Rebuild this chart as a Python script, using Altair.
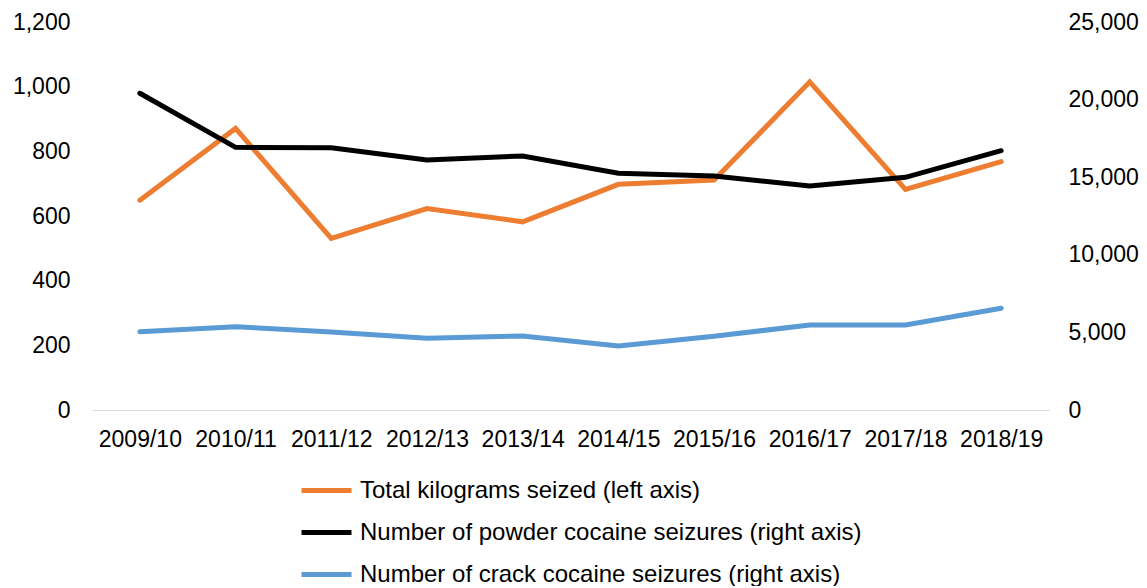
import altair as alt
import pandas as pd

years = ["2009/10", "2010/11", "2011/12", "2012/13", "2013/14",
         "2014/15", "2015/16", "2016/17", "2017/18", "2018/19"]
kg = [649, 871, 531, 623, 582, 698, 711, 1015, 682, 768]
powder = [20406, 16926, 16900, 16108, 16366, 15251, 15077, 14433, 14994, 16707]
crack = [5045, 5367, 5026, 4620, 4768, 4124, 4750, 5477, 5477, 6553]

names = ["Total kilograms seized (left axis)",
         "Number of powder cocaine seizures (right axis)",
         "Number of crack cocaine seizures (right axis)"]
colors = ["#ED7D31", "#000000", "#5B9BD5"]
left_ticks = [0, 200, 400, 600, 800, 1000, 1200]
right_ticks = [0, 5000, 10000, 15000, 20000, 25000]

rows = []
for name, vals in zip(names, [kg, powder, crack]):
    for yr, v in zip(years, vals):
        rows.append({"year": yr, "series": name, "value": v})
df = pd.DataFrame(rows)

FONT = "Liberation Sans"
AX = 23

color = alt.Color(
    "series:N",
    scale=alt.Scale(domain=names, range=colors),
    sort=names,
    legend=alt.Legend(
        title=None,
        orient="none",
        legendX=207,
        legendY=441,
        direction="vertical",
        symbolType="stroke",
        symbolSize=2500,
        symbolStrokeWidth=5,
        labelFontSize=24,
        labelFont=FONT,
        labelColor="#000000",
        labelOffset=6,
        rowPadding=2,
        labelLimit=700,
        padding=0,
    ),
)

x = alt.X(
    "year:N",
    sort=years,
    scale=alt.Scale(padding=0.5),
    axis=alt.Axis(
        title=None, labelAngle=0, ticks=False, domainColor="#d9d9d9",
        domainWidth=1, labelFontSize=AX, labelFont=FONT, labelColor="#000000",
        labelPadding=18,
    ),
)

base = alt.Chart(df)

left = base.transform_filter(alt.datum.series == names[0]).mark_line(
    strokeWidth=5, strokeCap="round"
).encode(
    x=x,
    y=alt.Y(
        "value:Q",
        scale=alt.Scale(domain=[0, 1200], nice=False),
        axis=alt.Axis(
            orient="left", values=left_ticks, format=",.0f", grid=False,
            domain=False, ticks=False, labelFontSize=AX, labelFont=FONT,
            labelColor="#000000", labelPadding=22, title=None,
        ),
    ),
    color=color,
)

right = base.transform_filter(alt.datum.series != names[0]).mark_line(
    strokeWidth=5, strokeCap="round"
).encode(
    x=x,
    y=alt.Y(
        "value:Q",
        scale=alt.Scale(domain=[0, 25000], nice=False),
        axis=alt.Axis(
            orient="right", values=right_ticks, format=",.0f", grid=False,
            domain=False, ticks=False, labelFontSize=AX, labelFont=FONT,
            labelColor="#000000", labelPadding=19, title=None,
        ),
    ),
    color=color,
)

chart = alt.layer(left, right).resolve_scale(y="independent").properties(
    width=957,
    height=388,
    padding={"left": 84, "top": 14, "right": 90, "bottom": 176},
    autosize=alt.AutoSizeParams(type="none"),
).configure_view(stroke=None)

chart.save("out.html", embed_options={"renderer": "svg", "actions": False})
